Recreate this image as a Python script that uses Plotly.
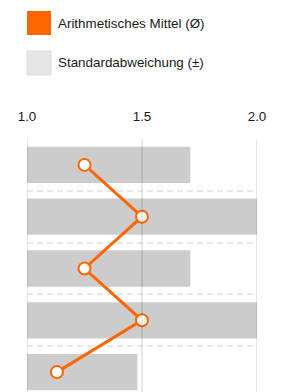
import plotly.graph_objects as go

# Data
categories = [0, 1, 2, 3, 4]
means = [1.25, 1.5, 1.25, 1.5, 1.13]
sds = [0.46, 0.5, 0.46, 0.5, 0.35]
tick_vals = [1.0, 1.5, 2.0]
tick_text = ["1.0", "1.5", "2.0"]
legend_labels = ["Arithmetisches Mittel (Ø)", "Standardabweichung (±)"]

ORANGE = "#ff6600"
BAR = "#cccccc"
FONT = "Liberation Sans, Arial, Helvetica, sans-serif"
FS = 13.4

OFF = 8  # page body margin
W, H = 282 - 2 * OFF, 392 - OFF
ML, MR, MT, MB = 27 - OFF, 282 - 257 - OFF, 139 - OFF, 0
plot_w = W - ML - MR
plot_h = H - MT - MB

def px_x(px):
    return (px - OFF - ML) / plot_w

def px_y(py):
    return 1 + (MT - (py - OFF)) / plot_h

fig = go.Figure()

fig.add_trace(go.Bar(
    y=categories,
    x=[2 * s for s in sds],
    base=[m - s for m, s in zip(means, sds)],
    orientation="h",
    width=0.7,
    marker=dict(color=BAR, line=dict(width=0)),
    showlegend=False,
    hoverinfo="skip",
))

fig.add_trace(go.Scatter(
    y=categories,
    x=means,
    mode="lines+markers",
    line=dict(color=ORANGE, width=3),
    marker=dict(size=12, color="white", line=dict(color=ORANGE, width=2)),
    showlegend=False,
    cliponaxis=False,
))

# vertical grid lines above bars
for v in tick_vals:
    fig.add_shape(type="line", xref="x", yref="paper", x0=v, x1=v, y0=0, y1=1,
                  line=dict(color="rgba(0,0,0,0.09)", width=2), layer="above")

# legend (drawn manually)
fig.add_shape(type="rect", xref="paper", yref="paper",
              x0=px_x(27), x1=px_x(51), y0=px_y(35), y1=px_y(11),
              fillcolor=ORANGE, line=dict(width=0))
fig.add_shape(type="rect", xref="paper", yref="paper",
              x0=px_x(27), x1=px_x(51), y0=px_y(75), y1=px_y(51),
              fillcolor="#e5e5e5", line=dict(color="#dcdcdc", width=1))
fig.add_annotation(xref="paper", yref="paper", x=px_x(56), y=px_y(23),
                   text=legend_labels[0], showarrow=False, xanchor="left",
                   yanchor="middle", font=dict(size=FS, color="#1a1a1a", family=FONT))
fig.add_annotation(xref="paper", yref="paper", x=px_x(56), y=px_y(63),
                   text=legend_labels[1], showarrow=False, xanchor="left",
                   yanchor="middle", font=dict(size=FS, color="#1a1a1a", family=FONT))

n = len(categories)
fig.update_layout(
    width=W, height=H, autosize=False,
    margin=dict(l=ML, r=MR, t=MT, b=MB, pad=0),
    plot_bgcolor="white", paper_bgcolor="white",
    font=dict(family=FONT, size=FS, color="#1a1a1a"),
    bargap=0.3,
    xaxis=dict(range=[1, 2], side="top", tickvals=tick_vals, ticktext=tick_text,
               showgrid=False, zeroline=False, showline=False,
               ticks="outside", ticklen=12, tickcolor="rgba(0,0,0,0)",
               tickfont=dict(size=FS, color="#1a1a1a", family=FONT)),
    yaxis=dict(range=[4.384, -0.5], tickvals=[i - 0.5 for i in range(n)],
               showticklabels=False, showgrid=True, gridcolor="#e8e8e8",
               gridwidth=2, griddash="6px,4px", zeroline=False, showline=False,
               ticks=""),
)

fig.write_html("out.html")
